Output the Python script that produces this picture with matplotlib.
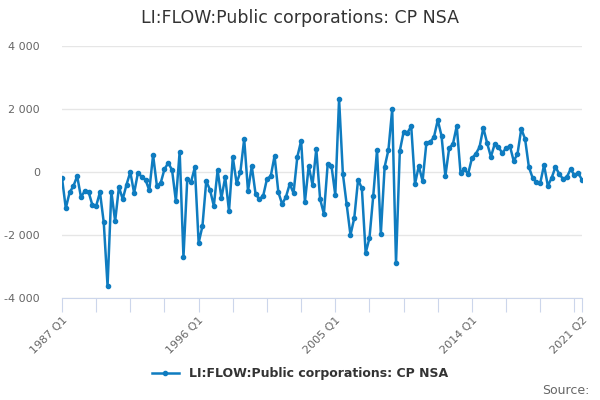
import matplotlib
matplotlib.use("Agg")
import matplotlib.pyplot as plt
import matplotlib.ticker as mticker
import numpy as np

title = "LI:FLOW:Public corporations: CP NSA"
series_name = "LI:FLOW:Public corporations: CP NSA"

start_year = 1987
values = [
    -190, -1150, -650, -450,     # 1987
    -130, -800, -600, -630,      # 1988
    -1050, -1080, -640, -1600,   # 1989
    -3620, -620, -1560, -480,    # 1990
    -860, -400, 0, -670,         # 1991
    -30, -150, -250, -580,       # 1992
    540, -440, -350, 90,         # 1993
    290, 60, -920, 650,          # 1994
    -2700, -230, -320, 150,      # 1995
    -2250, -1720, -290, -570,    # 1996
    -1080, 60, -830, -160,       # 1997
    -1240, 470, -350, 0,         # 1998
    1050, -600, 190, -700,       # 1999
    -860, -760, -220, -130,      # 2000
    510, -640, -1020, -790,      # 2001
    -380, -670, 480, 990,        # 2002
    -950, 190, -410, 730,        # 2003
    -860, -1330, 250, 190,       # 2004
    -730, 2320, -60, -1020,      # 2005
    -2000, -1460, -250, -510,    # 2006
    -2570, -2100, -760, 700,     # 2007
    -1970, 160, 700, 2000,       # 2008
    -2890, 670, 1270, 1240,      # 2009
    1460, -380, 190, -290,       # 2010
    920, 950, 1110, 1650,        # 2011
    1140, -130, 760, 890,        # 2012
    1460, -30, 90, -60,          # 2013
    440, 570, 790, 1400,         # 2014
    920, 480, 890, 790,          # 2015
    600, 760, 830, 350,          # 2016
    570, 1370, 1050, 160,        # 2017
    -190, -320, -350, 220,       # 2018
    -440, -190, 160, -60,        # 2019
    -220, -160, 90, -100,        # 2020
    -30, -250,                   # 2021
]

labels = ["%d Q%d" % (start_year + i // 4, i % 4 + 1) for i in range(len(values))]
x = np.arange(len(values))

line_color = "#0f7cc0"
axis_color = "#ccd6eb"

fig = plt.figure(figsize=(6, 4), dpi=100)
ax = fig.add_axes([62 / 600, 1 - 298 / 400, 520 / 600, 252 / 400])

line, = ax.plot(x, values, color=line_color, lw=1.8, marker="o", markersize=3,
                label=series_name)

ax.set_xlim(0, len(values) - 1)
ax.set_ylim(-4000, 4000)
ax.set_yticks([-4000, -2000, 0, 2000, 4000])
ax.yaxis.set_major_formatter(mticker.FuncFormatter(
    lambda v, p: ("{:,.0f}".format(v)).replace(",", " ")))
ax.grid(axis="y", color="#e6e6e6", lw=1)
ax.set_axisbelow(True)

# tick every 9 quarters, labels every 36 plus the last quarter
tick_pos = list(range(0, len(values) - 1, 9)) + [len(values) - 1]
ax.set_xticks(tick_pos)
tick_labels = [labels[i] if (i % 36 == 0 or i == len(values) - 1) else "" for i in tick_pos]
ax.set_xticklabels(tick_labels, rotation=45, ha="right", rotation_mode="anchor")

for s in ["left", "right", "top"]:
    ax.spines[s].set_visible(False)
ax.spines["bottom"].set_color(axis_color)
ax.tick_params(axis="x", length=10, color=axis_color, labelsize=8, labelcolor="#666666", pad=2)
ax.tick_params(axis="y", length=0, labelsize=8, labelcolor="#666666", pad=16)

fig.text(0.5, 1 - 18 / 400, title, ha="center", va="center", fontsize=12.5, color="#333333")

fig.legend(handles=[line], loc="center", bbox_to_anchor=(0.5, 1 - 374 / 400), frameon=False,
           prop={"weight": "bold", "size": 9}, labelcolor="#333333", handlelength=2.2)

fig.text(0.982, 1 - 390 / 400, "Source:", ha="right", va="center", fontsize=9, color="#666666")

fig.savefig("out.png", dpi=100)
